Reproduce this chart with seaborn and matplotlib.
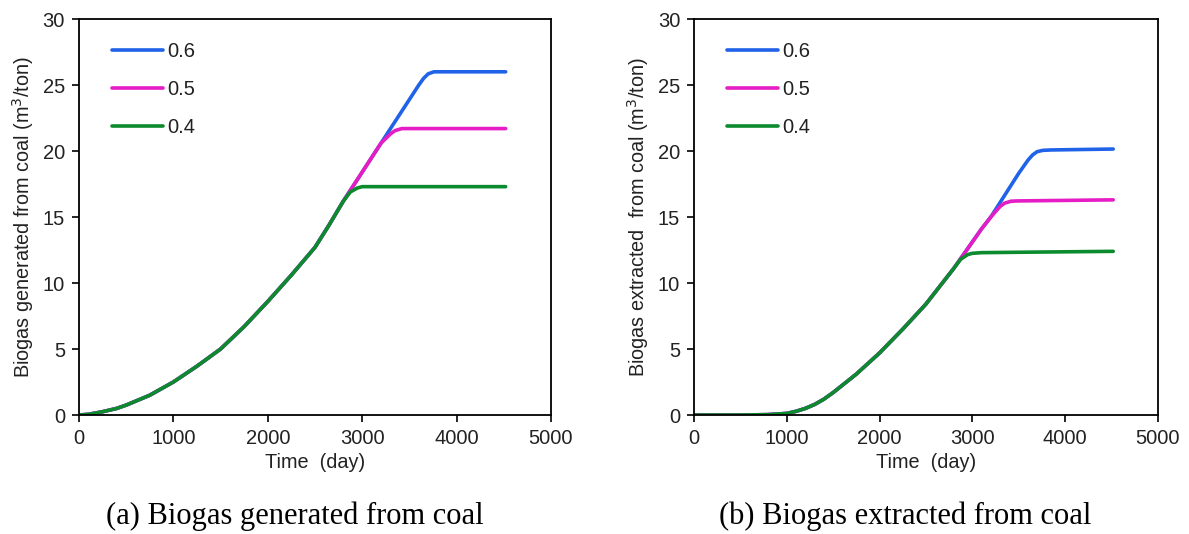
import matplotlib
matplotlib.use("Agg")
import matplotlib.pyplot as plt
import seaborn as sns
import pandas as pd

# ---- data ----
series_labels = ["0.6", "0.5", "0.4"]
colors = ["#2062E8", "#E61CC4", "#0B8A2E"]

# (a) generated
gen_t_common = [0, 100, 250, 400, 500, 750, 1000, 1250, 1500, 1750, 2000, 2250, 2500, 2650, 2800]
gen_v_common = [0, 0.05, 0.25, 0.5, 0.75, 1.5, 2.5, 3.7, 5.0, 6.7, 8.6, 10.6, 12.7, 14.4, 16.2]
gen_t_04 = [2875, 2950, 3000, 3100, 4520]
gen_v_04 = [16.9, 17.2, 17.3, 17.3, 17.3]
gen_t_05 = [2900, 3000, 3100, 3200, 3300, 3350, 3420, 3500, 4520]
gen_v_05 = [17.3, 18.4, 19.5, 20.6, 21.3, 21.55, 21.7, 21.7, 21.7]
gen_t_06 = [3200, 3300, 3400, 3500, 3600, 3650, 3700, 3760, 3850, 4520]
gen_v_06 = [20.6, 21.7, 22.8, 23.9, 25.0, 25.5, 25.85, 26.0, 26.0, 26.0]

# (b) extracted
ext_t_common = [0, 500, 800, 1000, 1100, 1200, 1300, 1400, 1500, 1750, 2000, 2250, 2500, 2700, 2800]
ext_v_common = [0, 0, 0.03, 0.12, 0.28, 0.5, 0.8, 1.2, 1.7, 3.1, 4.7, 6.5, 8.4, 10.2, 11.1]
ext_t_04 = [2875, 2950, 3000, 3100, 3500, 4520]
ext_v_04 = [11.8, 12.15, 12.25, 12.3, 12.33, 12.4]
ext_t_05 = [2900, 3000, 3100, 3200, 3300, 3350, 3420, 3500, 4520]
ext_v_05 = [12.1, 13.1, 14.1, 15.0, 15.8, 16.05, 16.2, 16.22, 16.3]
ext_t_06 = [3200, 3300, 3400, 3500, 3600, 3650, 3700, 3760, 3850, 4520]
ext_v_06 = [15.0, 16.1, 17.2, 18.3, 19.3, 19.7, 19.95, 20.05, 20.08, 20.15]

xticks = [0, 1000, 2000, 3000, 4000, 5000]
yticks = [0, 5, 10, 15, 20, 25, 30]
captions = ["(a) Biogas generated from coal", "(b) Biogas extracted from coal"]
ylabels = ["Biogas generated from coal (m$^3$/ton)", "Biogas extracted  from coal (m$^3$/ton)"]


def build(tc, vc, t4, v4, t5, v5, t6, v6):
    rows = []
    t5b = [t for t in t5 if t < t6[0]]
    v5b = [v for t, v in zip(t5, v5) if t < t6[0]]
    for t, v in zip(tc + t5b + t6, vc + v5b + v6):
        rows.append(("0.6", t, v))
    for t, v in zip(tc + t5, vc + v5):
        rows.append(("0.5", t, v))
    for t, v in zip(tc + t4, vc + v4):
        rows.append(("0.4", t, v))
    return pd.DataFrame(rows, columns=["series", "time", "value"])


df_a = build(gen_t_common, gen_v_common, gen_t_04, gen_v_04, gen_t_05, gen_v_05, gen_t_06, gen_v_06)
df_b = build(ext_t_common, ext_v_common, ext_t_04, ext_v_04, ext_t_05, ext_v_05, ext_t_06, ext_v_06)

sns.set_theme(style="white")
plt.rcParams["font.family"] = ["Liberation Sans", "DejaVu Sans"]

fig = plt.figure(figsize=(11.89, 5.34), dpi=100)
ax1 = fig.add_axes([0.0664, 0.2228, 0.397, 0.7416])
ax2 = fig.add_axes([0.5837, 0.2228, 0.390, 0.7416])

palette = dict(zip(series_labels, colors))
txt = "#222222"

for ax, df, ylab in [(ax1, df_a, ylabels[0]), (ax2, df_b, ylabels[1])]:
    sns.lineplot(data=df, x="time", y="value", hue="series", hue_order=series_labels,
                 palette=palette, linewidth=2.6, sort=False, estimator=None, ax=ax)
    ax.set_xlim(0, 5000)
    ax.set_ylim(0, 30)
    ax.set_xticks(xticks)
    ax.set_yticks(yticks)
    ax.tick_params(axis="both", which="major", direction="out", length=5, width=1.2,
                   labelsize=14.5, colors=txt, left=True, bottom=True, pad=5)
    ax.tick_params(axis="both", color="black")
    for s in ax.spines.values():
        s.set_color("black")
        s.set_linewidth(1.3)
    ax.set_xlabel("Time  (day)", fontsize=14.3, labelpad=4, color=txt)
    ax.set_ylabel(ylab, fontsize=14.3, labelpad=5, color=txt)
    leg = ax.legend(loc="upper left", bbox_to_anchor=(0.04, 0.978), frameon=False,
                    fontsize=14.5, handlelength=2.55, handletextpad=0.2, labelspacing=0.95,
                    borderaxespad=0.3)
    for line in leg.get_lines():
        line.set_linewidth(2.6)
    for t in leg.get_texts():
        t.set_color(txt)

fig.text(0.248, 0.018, captions[0], ha="center", va="baseline",
         fontsize=22, family=["Liberation Serif", "DejaVu Serif"], color="black")
fig.text(0.761, 0.018, captions[1], ha="center", va="baseline",
         fontsize=22, family=["Liberation Serif", "DejaVu Serif"], color="black")

fig.savefig("out.png", dpi=100)
